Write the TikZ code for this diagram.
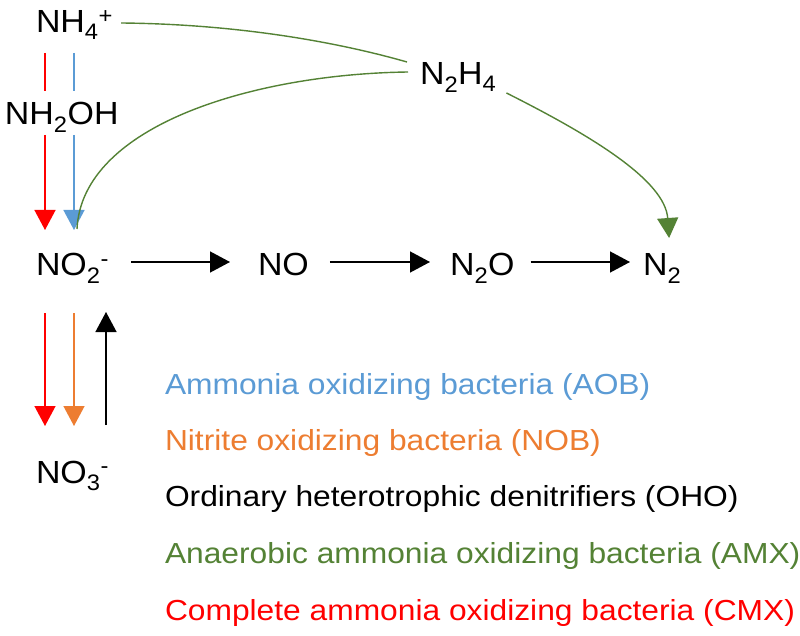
\documentclass[tikz,border=0pt]{standalone}
\usepackage{fontspec}
\setmainfont{Liberation Sans}
\usetikzlibrary{arrows.meta,calc}
\definecolor{aob}{HTML}{5B9BD5}
\definecolor{nob}{HTML}{ED7D31}
\definecolor{amx}{HTML}{548235}
\definecolor{cmx}{HTML}{FF0000}
\newcommand{\chemtxt}[1]{\scalebox{1.06}[1]{#1}}
\newcommand{\legtxt}[1]{\scalebox{1.095}[1]{#1}}
\begin{document}
\begin{tikzpicture}[x=1pt,y=-1pt,
  chem/.style={anchor=base west, inner sep=0pt, outer sep=0pt, text height=30pt, text depth=2pt, font=\fontsize{32}{38}\selectfont},
  leg/.style={anchor=base west, inner sep=0pt, outer sep=0pt, font=\fontsize{29}{34}\selectfont},
  flow/.style={line width=1.4pt, -{Triangle[length=20pt,width=21pt]}},
  plain/.style={line width=1.4pt}]
\fill[white] (0,0) rectangle (800,636);
\useasboundingbox (0,0) rectangle (800,636);

% species
\node[chem] (nh4) at (36,33) {\chemtxt{NH\textsubscript{4}\textsuperscript{+}}};
\node[chem] (nh2oh) at (5,125) {\chemtxt{NH\textsubscript{2}OH}};
\node[chem] (n2h4) at (420,85) {\chemtxt{N\textsubscript{2}H\textsubscript{4}}};
\node[chem] (no2) at (36,276) {\chemtxt{NO\textsubscript{2}\textsuperscript{-}}};
\node[chem] (no) at (258,276) {\chemtxt{NO}};
\node[chem] (n2o) at (450,276) {\chemtxt{N\textsubscript{2}O}};
\node[chem] (n2) at (643,276) {\chemtxt{N\textsubscript{2}}};
\node[chem] (no3) at (36,483) {\chemtxt{NO\textsubscript{3}\textsuperscript{-}}};

\coordinate (xr) at (45,0);
\coordinate (xb) at (74,0);
\coordinate (xk) at (106,0);

% denitrification chain
\draw[flow, shorten <=22pt, shorten >=28pt] (no2) -- (no);
\draw[flow, shorten <=21pt, shorten >=20pt] (no) -- (n2o);
\draw[flow, shorten <=16pt, shorten >=13pt] (n2o) -- (n2);

% ammonia oxidation
\draw[plain, cmx, shorten <=18pt, shorten >=4pt] (nh4.south -| xr) -- (nh2oh.north -| xr);
\draw[flow, cmx, shorten <=8pt, shorten >=16pt] (nh2oh.south -| xr) -- (no2.north -| xr);
\draw[plain, aob, shorten <=18pt, shorten >=4pt] (nh4.south -| xb) -- (nh2oh.north -| xb);
\draw[flow, aob, shorten <=8pt, shorten >=16pt] (nh2oh.south -| xb) -- (no2.north -| xb);

% nitrite oxidation / nitrate reduction
\draw[flow, cmx, shorten <=35pt, shorten >=27pt] (no2.south -| xr) -- (no3.north -| xr);
\draw[flow, nob, shorten <=35pt, shorten >=27pt] (no2.south -| xb) -- (no3.north -| xb);
\draw[flow, shorten <=28pt, shorten >=34pt] (no3.north -| xk) -- (no2.south -| xk);

% anammox
\draw[plain, amx] ([shift={(8,4)}]nh4.east) .. controls (230,24) and (330,40) .. ([shift={(-13,-9)}]n2h4.west);
\draw[plain, amx] ([shift={(-12,1)}]n2h4.west) .. controls (255,74) and (82,125) .. ($(no2.north -| xb)+(3,-17)$);
\draw[flow, amx] ([shift={(10,22)}]n2h4.east) .. controls (590,135) and (665,180) .. ([shift={(7,-8)}]n2.north);

% legend
\node[leg, text=aob] (l1) at (165,394) {\legtxt{Ammonia oxidizing bacteria (AOB)}};
\node[leg, text=nob] (l2) at (165,450) {\legtxt{Nitrite oxidizing bacteria (NOB)}};
\node[leg, text=black] (l3) at (165,506) {\legtxt{Ordinary heterotrophic denitrifiers (OHO)}};
\node[leg, text=amx] (l4) at (165,563) {\legtxt{Anaerobic ammonia oxidizing bacteria (AMX)}};
\node[leg, text=cmx] (l5) at (165,620) {\legtxt{Complete ammonia oxidizing bacteria (CMX)}};
\end{tikzpicture}
\end{document}
